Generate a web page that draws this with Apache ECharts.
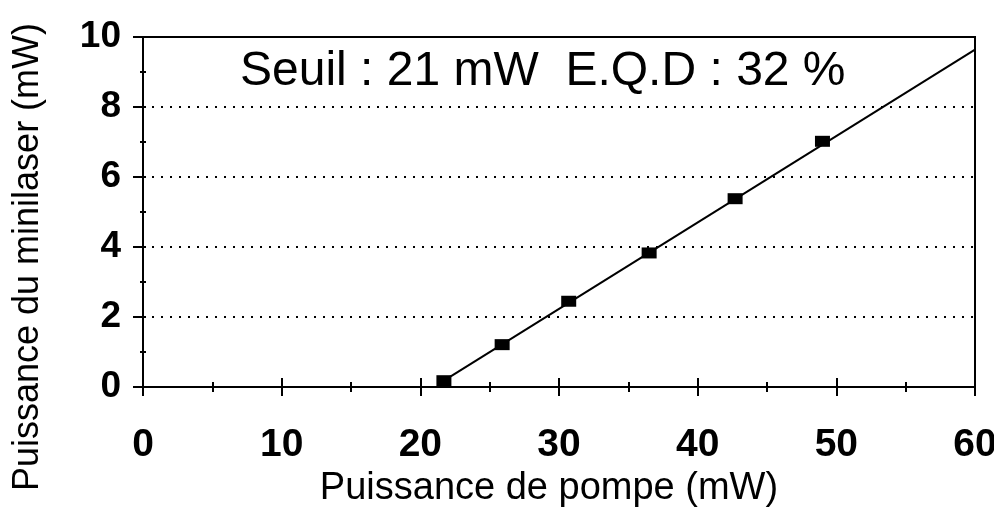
<!DOCTYPE html>
<html>
<head>
<meta charset="utf-8">
<script src="https://cdn.jsdelivr.net/npm/echarts@6/dist/echarts.min.js"></script>
<style>
  html, body { margin: 0; padding: 0; background: #fff; }
  #chart { width: 994px; height: 510px; }
</style>
</head>
<body>
<div id="chart"></div>
<script>
// Pump power (mW) and minilaser output power (mW)
const pumpPower = [21.7, 25.9, 30.7, 36.5, 42.7, 49.0];
const laserPower = [0.18, 1.21, 2.45, 3.83, 5.38, 7.02];

// Linear fit drawn from the first point to the end of the axis
const fitX = [21.7, 60];
const fitY = [0.18, 9.64];

const annotation = 'Seuil : 21 mW  E.Q.D : 32 %';
const xTitle = 'Puissance de pompe (mW)';
const yTitle = 'Puissance du minilaser (mW)';

const FONT = '"Liberation Sans", Arial, Helvetica, sans-serif';
const chart = echarts.init(document.getElementById('chart'), null, { renderer: 'canvas' });

const points = pumpPower.map((x, i) => [x, laserPower[i]]);
const fit = fitX.map((x, i) => [x, fitY[i]]);

const baseX = { type: 'value', min: 0, max: 60, interval: 10, gridIndex: 0 };
const baseY = { type: 'value', min: 0, max: 10, interval: 2, gridIndex: 0 };

chart.setOption({
  animation: false,
  backgroundColor: '#fff',
  grid: {
    left: 143, right: 19, top: 37, bottom: 123,
    containLabel: false, outerBoundsMode: 'none',
    show: true, borderColor: '#000', borderWidth: 2, backgroundColor: 'transparent'
  },
  xAxis: [
    Object.assign({}, baseX, {
      position: 'bottom',
      name: xTitle,
      nameLocation: 'middle',
      nameGap: 75,
      nameTextStyle: { fontFamily: FONT, fontSize: 38, color: '#000', padding: [0, 20, 0, 0] },
      axisLine: { show: true, onZero: false, lineStyle: { color: '#000', width: 2 } },
      axisTick: { show: true, inside: false, length: 9, lineStyle: { color: '#000', width: 2 } },
      minorTick: { show: true, splitNumber: 2, length: 5, lineStyle: { color: '#000', width: 2 } },
      axisLabel: { fontFamily: FONT, fontSize: 39, fontWeight: 'bold', color: '#000', margin: 39 },
      splitLine: { show: false }
    }),
    Object.assign({}, baseX, {
      position: 'bottom',
      axisLine: { show: false },
      axisTick: { show: true, inside: true, length: 9, lineStyle: { color: '#000', width: 2 } },
      minorTick: { show: true, splitNumber: 2, length: 5, lineStyle: { color: '#000', width: 2 } },
      axisLabel: { show: false },
      splitLine: { show: false }
    })
  ],
  yAxis: [
    Object.assign({}, baseY, {
      position: 'left',
      axisLine: { show: true, onZero: false, lineStyle: { color: '#000', width: 2 } },
      axisTick: { show: true, inside: false, length: 10, lineStyle: { color: '#000', width: 2 } },
      minorTick: { show: true, splitNumber: 2, length: 3, lineStyle: { color: '#000', width: 2 } },
      axisLabel: { fontFamily: FONT, fontSize: 37, fontWeight: 'bold', color: '#000', margin: 22 },
      splitLine: { show: true, lineStyle: { color: '#000', width: 2, type: [2, 7] } }
    }),
    Object.assign({}, baseY, {
      position: 'left',
      axisLine: { show: false },
      axisTick: { show: true, inside: true, length: 3, lineStyle: { color: '#000', width: 2 } },
      minorTick: { show: true, splitNumber: 2, length: 3, lineStyle: { color: '#000', width: 2 } },
      axisLabel: { show: false },
      splitLine: { show: false }
    })
  ],
  graphic: [
    {
      type: 'text',
      x: 240, y: 72,
      style: {
        text: annotation, fontFamily: FONT, fontSize: 48, fill: '#000',
        align: 'left', verticalAlign: 'middle'
      }
    },
    {
      type: 'text',
      x: 28, y: 257, rotation: Math.PI / 2,
      style: {
        text: yTitle, fontFamily: FONT, fontSize: 36, fill: '#000',
        align: 'center', verticalAlign: 'middle'
      }
    }
  ],
  series: [
    {
      type: 'line',
      xAxisIndex: 0, yAxisIndex: 0,
      data: fit,
      symbol: 'none',
      lineStyle: { color: '#000', width: 2 },
      z: 2
    },
    {
      type: 'scatter',
      xAxisIndex: 0, yAxisIndex: 0,
      data: points,
      symbol: 'rect',
      symbolSize: [15, 11],
      itemStyle: { color: '#000', opacity: 1 },
      z: 3
    }
  ]
});
</script>
</body>
</html>
